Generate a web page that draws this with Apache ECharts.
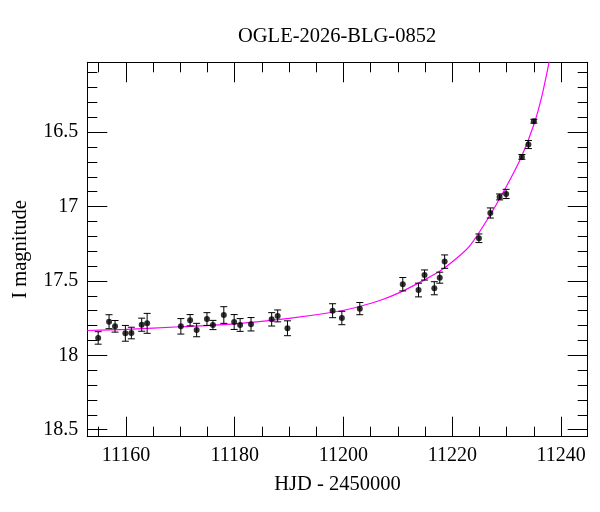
<!DOCTYPE html>
<html><head><meta charset="utf-8">
<script src="https://cdn.jsdelivr.net/npm/echarts@6/dist/echarts.min.js"></script>
<style>html,body{margin:0;padding:0;background:#fff}#c{width:600px;height:512px}</style>
</head><body><div id="c"></div>
<script>
// Observations (HJD - 2450000, I magnitude, error)
const hjd = [11154.9, 11156.9, 11158.0, 11159.9, 11161.0, 11162.9, 11163.9, 11170.1, 11171.8, 11173.0,
             11174.9, 11176.0, 11178.0, 11179.9, 11181.0, 11183.0, 11186.8, 11187.9, 11189.7, 11198.0,
             11199.7, 11203.0, 11210.9, 11213.8, 11214.9, 11216.7, 11217.7, 11218.6, 11224.9, 11227.0,
             11228.7, 11229.9, 11232.8, 11234.0, 11235.0];
const mag = [17.883, 17.774, 17.805, 17.852, 17.850, 17.794, 17.785, 17.805, 17.764, 17.830,
             17.756, 17.796, 17.729, 17.776, 17.796, 17.791, 17.758, 17.735, 17.818, 17.700,
             17.749, 17.686, 17.522, 17.561, 17.460, 17.549, 17.478, 17.370, 17.213, 17.043,
             16.935, 16.915, 16.666, 16.583, 16.426];
const magErr = [0.042, 0.047, 0.039, 0.053, 0.039, 0.044, 0.067, 0.052, 0.038, 0.045,
                0.043, 0.031, 0.056, 0.050, 0.043, 0.045, 0.045, 0.040, 0.050, 0.047,
                0.045, 0.041, 0.045, 0.046, 0.034, 0.044, 0.037, 0.045, 0.029, 0.034,
                0.020, 0.031, 0.016, 0.027, 0.013];
// Model curve
const modelHjd = [11152.9, 11160.0, 11170.0, 11180.0, 11190.0, 11199.4, 11203.1, 11206.8, 11210.5, 11214.1,
                  11217.8, 11221.5, 11223.4, 11226.4, 11229.5, 11232.6, 11235.0, 11236.55, 11237.8, 11238.3];
const modelMag = [17.833, 17.826, 17.808, 17.788, 17.752, 17.702, 17.670, 17.630, 17.575, 17.508,
                  17.432, 17.325, 17.255, 17.090, 16.895, 16.675, 16.450, 16.245, 16.030, 15.930];
// Axis ticks
const xMajorTicks = [11160, 11180, 11200, 11220, 11240];
const xMinorTicks = [11155, 11165, 11170, 11175, 11185, 11190, 11195, 11205, 11210, 11215, 11225, 11230, 11235];
const yMajorTicks = [16.5, 17, 17.5, 18, 18.5];
const yMinorTicks = [16.1, 16.2, 16.3, 16.4, 16.6, 16.7, 16.8, 16.9, 17.1, 17.2, 17.3, 17.4,
                     17.6, 17.7, 17.8, 17.9, 18.1, 18.2, 18.3, 18.4];

const X_MIN = 11152.9, X_MAX = 11244.9, Y_MIN = 16.03, Y_MAX = 18.547;
const FONT = 'Liberation Serif';
const black = '#000';

function xAx(pos, major, labels) {
  return {
    type: 'value', position: pos, min: X_MIN, max: X_MAX,
    axisLine: { show: major, onZero: false, lineStyle: { color: black, width: 1 } },
    axisTick: { show: true, inside: true, length: major ? 20 : 10,
                customValues: major ? xMajorTicks : xMinorTicks, lineStyle: { color: black, width: 1 } },
    axisLabel: labels ? { show: true, customValues: xMajorTicks, color: black, fontFamily: FONT, fontSize: 20, margin: 9,
                          formatter: function (v) { return String(v); } }
                      : { show: false },
    splitLine: { show: false },
    name: labels ? 'HJD - 2450000' : '',
    nameLocation: 'middle', nameGap: 37,
    nameTextStyle: { color: black, fontFamily: FONT, fontSize: 20.5 }
  };
}
function yAx(pos, major, labels) {
  return {
    type: 'value', position: pos, min: Y_MIN, max: Y_MAX, inverse: true,
    axisLine: { show: major, onZero: false, lineStyle: { color: black, width: 1 } },
    axisTick: { show: true, inside: true, length: major ? 20 : 10,
                customValues: major ? yMajorTicks : yMinorTicks, lineStyle: { color: black, width: 1 } },
    axisLabel: labels ? { show: true, customValues: yMajorTicks, color: black, fontFamily: FONT, fontSize: 20, margin: 9,
                          formatter: function (v) { return String(v); } }
                      : { show: false },
    splitLine: { show: false },
    name: labels ? 'I magnitude' : '',
    nameLocation: 'middle', nameGap: 56, nameRotate: 90,
    nameTextStyle: { color: black, fontFamily: FONT, fontSize: 20.5 }
  };
}

const points = hjd.map((d, i) => [d, mag[i]]);
const errData = hjd.map((d, i) => [d, mag[i], magErr[i]]);
const model = modelHjd.map((d, i) => [d, modelMag[i]]);

const chart = echarts.init(document.getElementById('c'), null, { renderer: 'canvas' });
chart.setOption({
  animation: false,
  backgroundColor: '#fff',
  title: {
    text: 'OGLE-2026-BLG-0852', left: 238, top: 26, padding: 0,
    textStyle: { color: black, fontFamily: FONT, fontSize: 20.5, fontWeight: 'normal' }
  },
  grid: { left: 87.3, right: 12.3, top: 62.3, bottom: 75.3, containLabel: false },
  xAxis: [xAx('bottom', true, true), xAx('bottom', false, false), xAx('top', true, false), xAx('top', false, false)],
  yAxis: [yAx('left', true, true), yAx('left', false, false), yAx('right', true, false), yAx('right', false, false)],
  series: [
    {
      type: 'line', data: model, smooth: 0.3, showSymbol: false, clip: true,
      lineStyle: { color: '#ff00ff', width: 1.2 }, z: 1
    },
    {
      type: 'custom', data: errData, clip: true, z: 2,
      renderItem: function (params, api) {
        const d = api.value(0), m = api.value(1), e = api.value(2);
        const top = api.coord([d, m - e]);
        const bot = api.coord([d, m + e]);
        const hw = 3.5;
        const st = { stroke: black, lineWidth: 1 };
        return { type: 'group', children: [
          { type: 'line', shape: { x1: top[0], y1: top[1], x2: bot[0], y2: bot[1] }, style: st },
          { type: 'line', shape: { x1: top[0] - hw, y1: top[1], x2: top[0] + hw, y2: top[1] }, style: st },
          { type: 'line', shape: { x1: bot[0] - hw, y1: bot[1], x2: bot[0] + hw, y2: bot[1] }, style: st }
        ]};
      }
    },
    {
      type: 'scatter', data: points, symbol: 'circle', symbolSize: 6,
      itemStyle: { color: black }, z: 3
    }
  ]
});
</script>
</body></html>
